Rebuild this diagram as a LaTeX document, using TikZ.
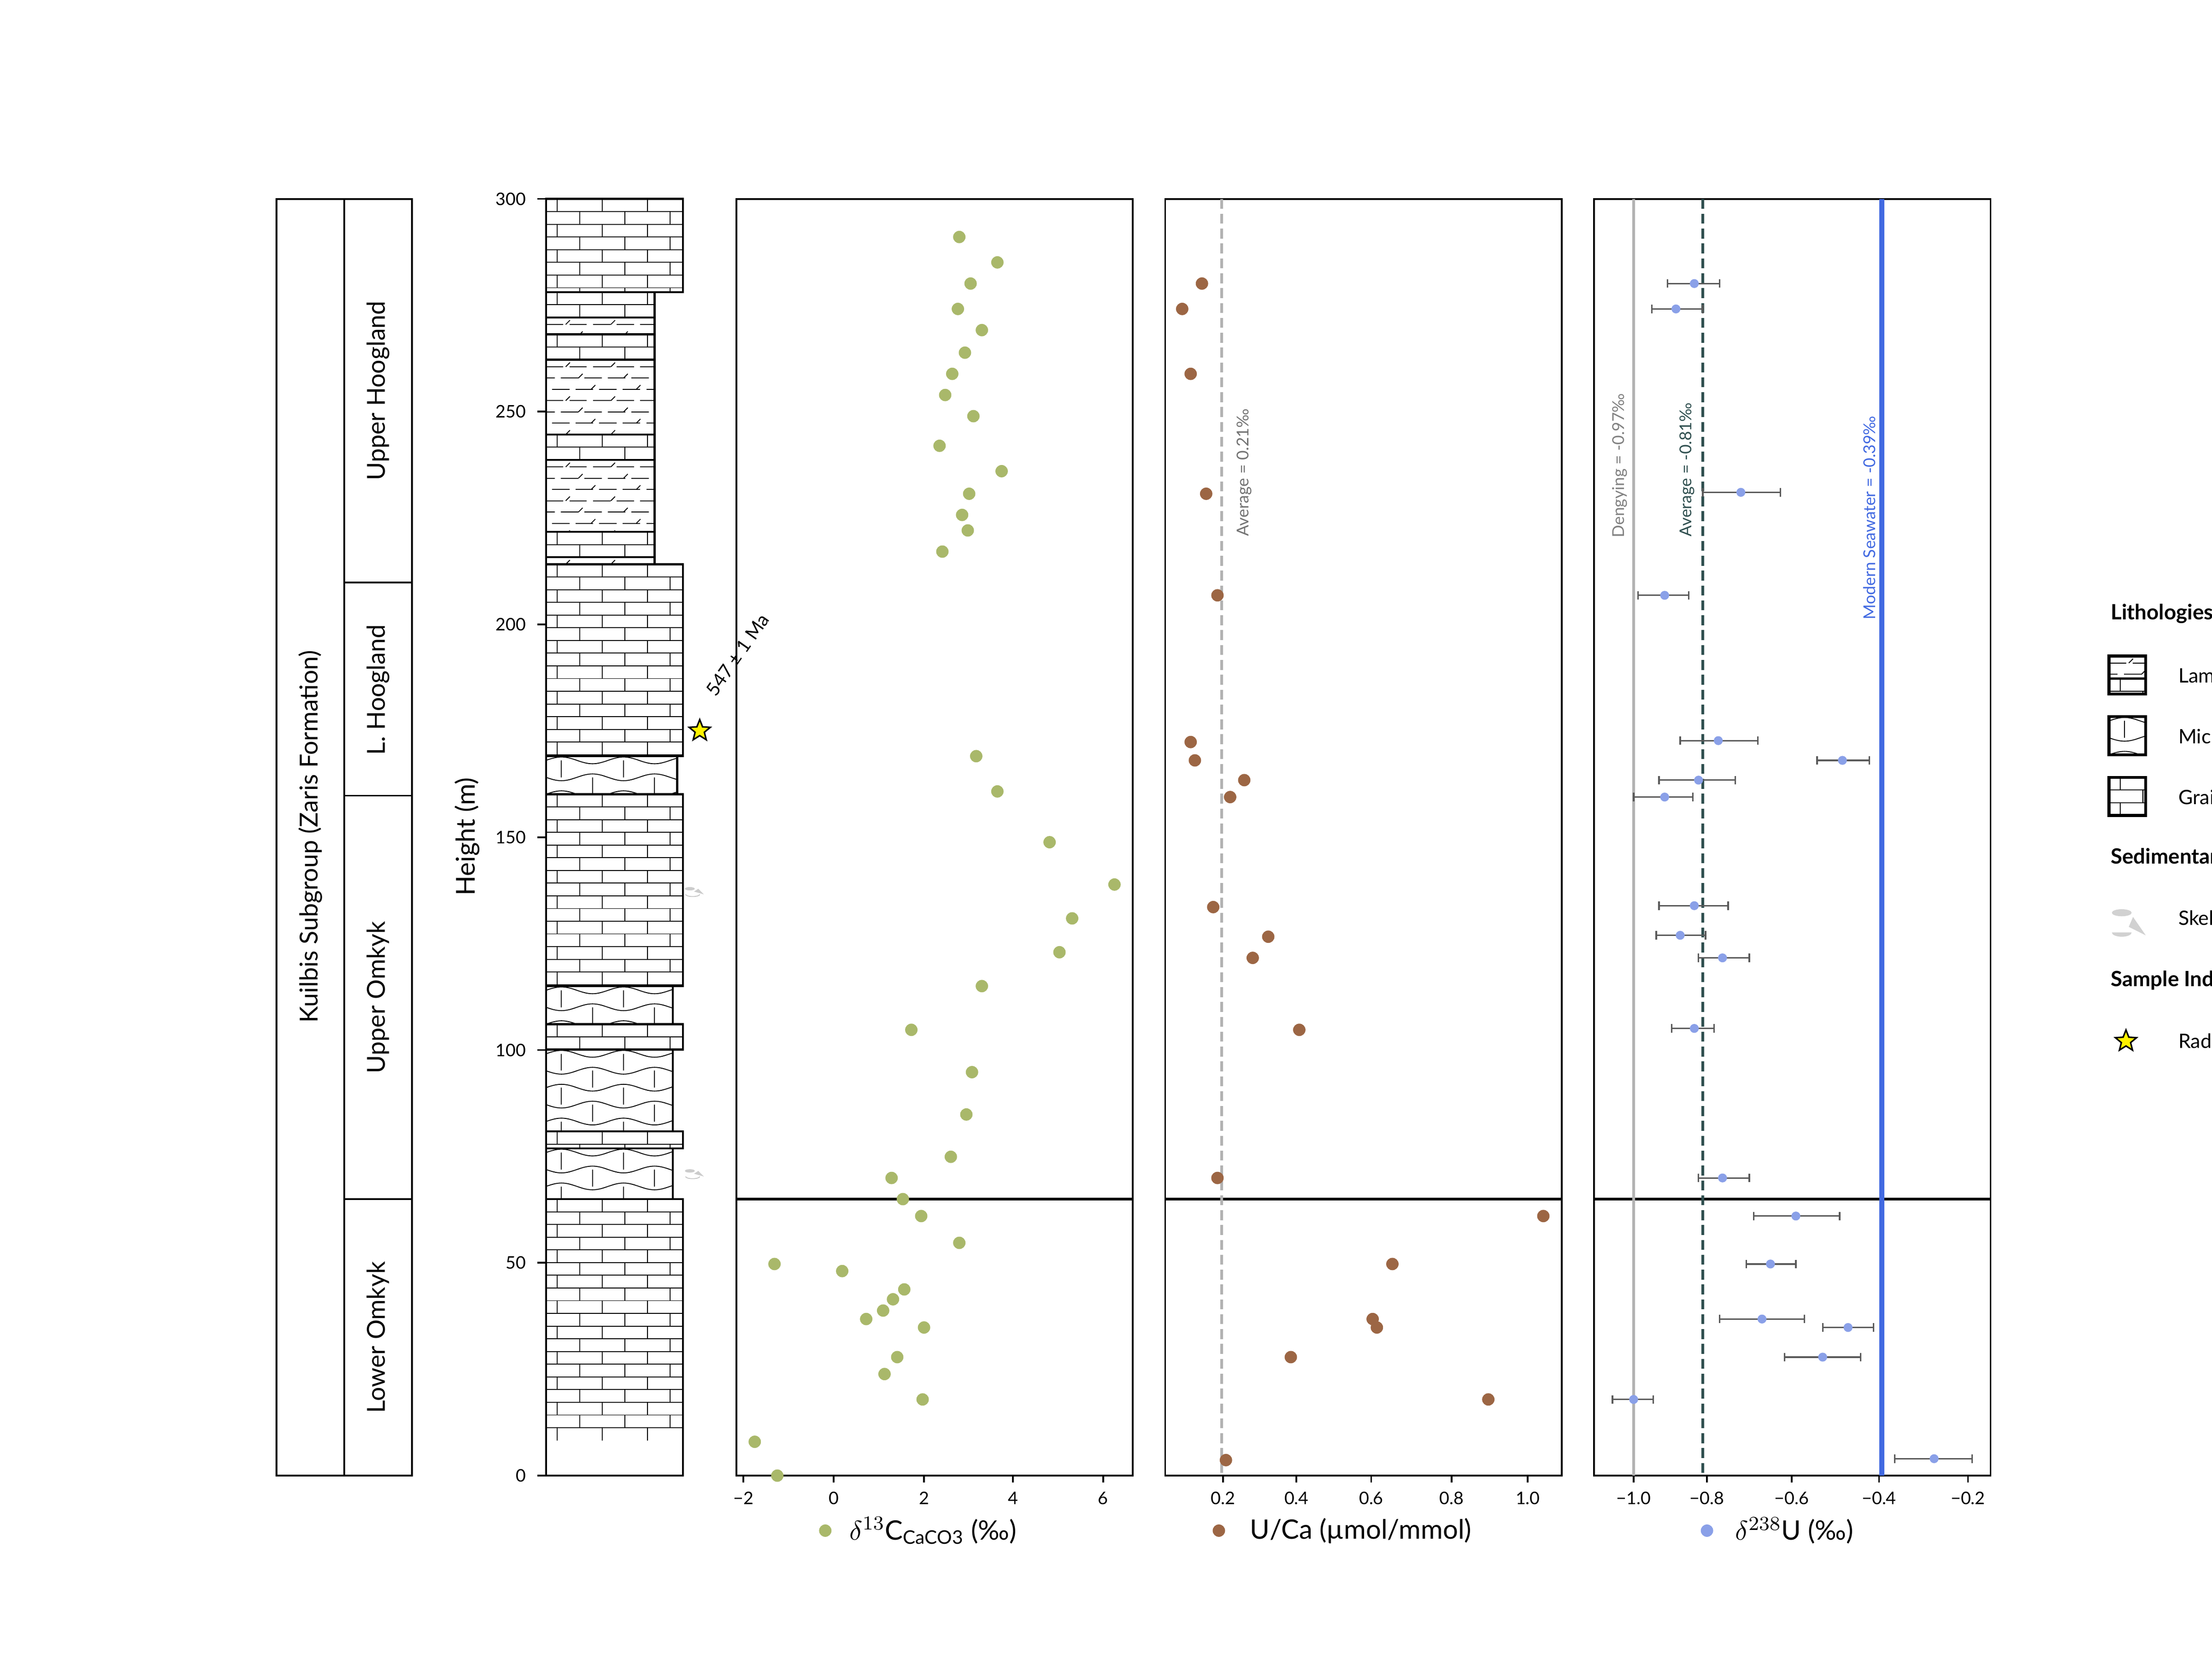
\documentclass[tikz,border=0pt]{standalone}
\usepackage{fontspec}
\setmainfont{Lato}
\usepackage{tikz}
\usetikzlibrary{shapes.geometric,calc}

\definecolor{cgreen}{HTML}{A9B86A}
\definecolor{cbrown}{HTML}{9C6644}
\definecolor{cblue}{HTML}{8AA0E8}
\definecolor{sblue}{HTML}{4169E1}
\definecolor{avgdark}{HTML}{2F4F4F}

% grainstone bricks: x1, y1 (top), x2, y2 (bottom)
\newcommand{\grain}[4]{%
  \begin{scope}
    \clip (#1,#2) rectangle (#3,#4);
    \foreach \r in {0,...,18}{
      \pgfmathsetmacro\ya{#2+9*\r}
      \pgfmathsetmacro\yb{\ya+9}
      \draw[inner] (#1,\ya) -- (#3,\ya);
      \foreach \c in {0,...,3}{
        \pgfmathsetmacro\xa{#1+8+\c*32+mod(\r,2)*16}
        \draw[inner] (\xa,\ya) -- (\xa,\yb);
      }
    }
  \end{scope}
  \draw[outline] (#1,#2) rectangle (#3,#4);
}
% microbialite waves
\newcommand{\micro}[4]{%
  \begin{scope}
    \clip (#1,#2) rectangle (#3,#4);
    \foreach \r in {0,...,6}{
      \pgfmathsetmacro\ya{#2+3+12*\r}
      \pgfmathsetmacro\yc{\ya+12}
      \pgfmathsetmacro\xs{#1-mod(\r,2)*22}
      \foreach \c in {0,...,3}{
        \pgfmathsetmacro\xw{\xs+44*\c}
        \draw[inner] (\xw,\ya) sin ++(11,-2.4) cos ++(11,2.4) sin ++(11,2.4) cos ++(11,-2.4);
      }
      \foreach \c in {0,...,3}{
        \pgfmathsetmacro\xa{#1+11+\c*44+mod(\r,2)*22}
        \draw[inner] (\xa,\ya) -- (\xa,\yc);
      }
    }
  \end{scope}
  \draw[outline] (#1,#2) rectangle (#3,#4);
}
% laminite dashes with small ticks
\newcommand{\lamin}[4]{%
  \begin{scope}
    \clip (#1,#2) rectangle (#3,#4);
    \foreach \r in {0,...,8}{
      \pgfmathsetmacro\ya{#2+5+8*\r}
      \pgfmathsetmacro\ph{mod(\r,3)*3.5}
      \draw[inner,dash pattern=on 7pt off 2.5pt,dash phase=\ph pt] (#1,\ya) -- (#3,\ya);
      \foreach \c in {0,1}{
        \pgfmathsetmacro\xa{#1+14+\c*32+mod(\r,3)*9}
        \draw[inner] (\xa,\ya) -- ++(3,-3);
      }
    }
  \end{scope}
  \draw[outline] (#1,#2) rectangle (#3,#4);
}

\tikzset{
  inner/.style={line width=0.35pt},
  outline/.style={line width=0.8pt},
  panel/.style={line width=0.7pt},
  tick/.style={font=\fontsize{7}{8}\selectfont},
  note/.style={font=\fontsize{6.6}{8}\selectfont, rotate=90},
  unitlbl/.style={font=\fontsize{10}{12}\selectfont, rotate=90},
  legtxt/.style={font=\fontsize{10.8}{12}\selectfont, anchor=west},
  legsec/.style={font=\bfseries\fontsize{8.5}{10}\selectfont, anchor=west},
  legitem/.style={font=\fontsize{8}{9}\selectfont, anchor=west},
  cdot/.style={circle, inner sep=0pt, minimum size=5pt, fill=cgreen},
  udot/.style={circle, inner sep=0pt, minimum size=5pt, fill=cbrown},
  ddot/.style={circle, inner sep=0pt, minimum size=3.6pt, fill=cblue},
  errbar/.style={line width=0.6pt, draw=black!65},
  star5/.style={star, star points=5, star point ratio=2.3, inner sep=0pt, minimum size=9pt, fill=yellow, draw=black, line width=0.6pt},
}

\begin{document}
\begin{tikzpicture}[x=0.02cm, y=-0.02cm]
  \useasboundingbox (0,0) rectangle (1568,1176);

  % stratigraphic units
  \draw[panel] (196,141) rectangle (244,1046);
  \draw[panel] (244,141) rectangle (292,1046);
  \draw[panel] (244,413) -- (292,413);
  \draw[panel] (244,564) -- (292,564);
  \draw[panel] (244,850) -- (292,850);
  \node[unitlbl] (kuilbis) at (220,593) {Kuilbis Subgroup (Zaris Formation)};
  \node[unitlbl] (uhoog) at (268,277) {Upper Hoogland};
  \node[unitlbl] (lhoog) at (268,489) {L. Hoogland};
  \node[unitlbl] (uomk) at (268,707) {Upper Omkyk};
  \node[unitlbl] (lomk) at (268,948) {Lower Omkyk};

  % height axis
  \node[font=\fontsize{10.5}{12}\selectfont, rotate=90] (hlabel) at (331,593) {Height (m)};
  \draw[panel] (387,141) -- (387,1046);
  \foreach \h in {0,50,...,300}{
    \pgfmathsetmacro\yy{1046-3.0167*\h}
    \draw[panel] (381,\yy) -- (387,\yy);
    \node[tick, anchor=east] (h\h) at (379,\yy) {\h};
  }

  % lithology column
  \grain{387}{850}{484}{1046}
  \micro{387}{814}{477}{850}
  \grain{387}{802}{484}{814}
  \micro{387}{744}{477}{802}
  \grain{387}{726}{484}{744}
  \micro{387}{699}{477}{726}
  \grain{387}{563}{484}{699}
  \micro{387}{536}{480}{563}
  \grain{387}{400}{484}{536}
  \lamin{387}{395}{464}{400}
  \grain{387}{377}{464}{395}
  \lamin{387}{326}{464}{377}
  \grain{387}{308}{464}{326}
  \lamin{387}{255}{464}{308}
  \grain{387}{237}{464}{255}
  \lamin{387}{225}{464}{237}
  \grain{387}{207}{464}{225}
  \grain{387}{141}{484}{207}

  % skeletal grains and dated level
  \foreach \yy in {630,830}{
    \fill[black!20] (489,\yy) ellipse (3.5 and 1.2);
    \fill[black!20] (495,\yy) -- (499,\yy+4) -- (492,\yy+2) -- cycle;
    \draw[black!25, line width=0.3pt] (486,\yy+4) arc (180:360:5 and -1.5);
  }
  \node[star5] (ash) at (496,518) {};
  \node[font=\fontsize{7.5}{9}\selectfont, rotate=55, anchor=south west] (age) at (509,503) {547 ± 1 Ma};

  % panel 1: carbon isotopes
  \draw[panel] (522,141) rectangle (803,1046);
  \draw[line width=1pt] (522,850) -- (803,850);
  \foreach \xx/\lab in {527/−2,591/0,655/2,718/4,782/6}{
    \draw[panel] (\xx,1046) -- (\xx,1051);
    \node[tick] at (\xx,1062) {\lab};
  }
  \foreach \p in {(680,168),(707,186),(688,201),(679,219),(696,234),(684,250),(675,265),(670,280),(690,295),(666,316),(710,334),(687,350),(682,365),(686,376),(668,391),(692,536),(707,561),(744,597),(790,627),(760,651),(751,675),(696,699),(646,730),(689,760),(685,790),(674,820),(632,835),(640,850),(653,862),(680,881),(549,896),(597,901),(641,914),(633,921),(626,929),(614,935),(655,941),(636,962),(627,974),(654,992),(535,1022),(551,1046)}
    \node[cdot] at \p {};
  \node[cdot] (cleg) at (585,1085) {};
  \node[legtxt] (cname) at (596,1085) {$\delta^{13}$C$_{\mathrm{CaCO3}}$ (‰)};

  % panel 2: U/Ca
  \draw[panel] (826,141) rectangle (1107,1046);
  \draw[line width=1pt] (826,850) -- (1107,850);
  \draw[black!30, line width=1.2pt, dash pattern=on 4pt off 2pt] (866,141) -- (866,1046);
  \node[note, text=black!55] (uavg) at (882,335) {Average = 0.21‰};
  \foreach \xx/\lab in {867/0.2,919/0.4,972/0.6,1029/0.8,1083/1.0}{
    \draw[panel] (\xx,1046) -- (\xx,1051);
    \node[tick] at (\xx,1062) {\lab};
  }
  \foreach \p in {(852,201),(838,219),(844,265),(855,350),(863,422),(844,526),(847,539),(882,553),(872,565),(860,643),(899,664),(888,679),(921,730),(863,835),(1094,862),(987,896),(973,935),(976,941),(915,962),(1055,992),(869,1035)}
    \node[udot] at \p {};
  \node[udot] (uleg) at (864,1085) {};
  \node[legtxt] (uname) at (880,1085) {U/Ca (µmol/mmol)};

  % panel 3: uranium isotopes
  \draw[panel] (1130,141) rectangle (1411,1046);
  \draw[line width=1pt] (1130,850) -- (1411,850);
  \draw[black!30, line width=1.1pt] (1158,141) -- (1158,1046);
  \draw[avgdark, line width=1.2pt, dash pattern=on 4pt off 2pt] (1207,141) -- (1207,1046);
  \draw[sblue, line width=2pt] (1334,141) -- (1334,1046);
  \node[note, text=black!50] (deng) at (1148,330) {Dengying = -0.97‰};
  \node[note, text=avgdark] (davg) at (1196,333) {Average = -0.81‰};
  \node[note, text=sblue] (sea) at (1325,367) {Modern Seawater = -0.39‰};
  \foreach \xx/\lab in {1158/−1.0,1210/−0.8,1270/−0.6,1332/−0.4,1395/−0.2}{
    \draw[panel] (\xx,1046) -- (\xx,1051);
    \node[tick] at (\xx,1062) {\lab};
  }
  \foreach \xx/\yy/\lo/\hi in {1201/201/1182/1219,1188/219/1171/1207,1234/349/1207/1262,1180/422/1161/1197,1218/525/1191/1246,1306/539/1288/1325,1204/553/1176/1230,1180/565/1158/1200,1201/642/1176/1225,1191/663/1174/1209,1221/679/1204/1240,1201/729/1185/1215,1221/835/1204/1240,1273/862/1243/1304,1255/896/1238/1273,1249/935/1219/1279,1310/941/1292/1328,1292/962/1265/1319,1158/992/1143/1172,1371/1034/1343/1398}{
    \draw[errbar] (\lo,\yy) -- (\hi,\yy);
    \draw[errbar] (\lo,\yy-3) -- (\lo,\yy+3);
    \draw[errbar] (\hi,\yy-3) -- (\hi,\yy+3);
    \node[ddot] at (\xx,\yy) {};
  }
  \node[ddot, minimum size=5pt] (dleg) at (1210,1085) {};
  \node[legtxt] (dname) at (1224,1085) {$\delta^{238}$U (‰)};

  % legend
  \node[legsec] (lith) at (1490,435) {Lithologies};
  \lamin{1495}{465}{1521}{481}
  \grain{1495}{481}{1521}{492}
  \draw[line width=1.2pt] (1495,465) rectangle (1521,492);
  \node[legitem] (llam) at (1538,479) {Laminite};
  \micro{1495}{508}{1521}{535}
  \draw[line width=1.2pt] (1495,508) rectangle (1521,535);
  \node[legitem] (lmic) at (1538,522) {Microbialite};
  \grain{1495}{551}{1521}{578}
  \draw[line width=1.2pt] (1495,551) rectangle (1521,578);
  \node[legitem] (lgra) at (1538,565) {Grainstone};
  \node[legsec] (sedf) at (1490,608) {Sedimentary Features};
  \fill[black!18] (1504,647) ellipse (7 and 2.5);
  \fill[black!18] (1512,650) -- (1521,663) -- (1509,657) -- cycle;
  \fill[black!18] (1497,661) arc (180:0:7 and 3) -- cycle;
  \node[legitem] (lske) at (1538,652) {Skeletal grains};
  \node[legsec] (samp) at (1490,695) {Sample Indicators};
  \node[star5] (lstar) at (1507,738) {};
  \node[legitem] (lrad) at (1538,738) {Radiometric date};
\end{tikzpicture}
\end{document}
